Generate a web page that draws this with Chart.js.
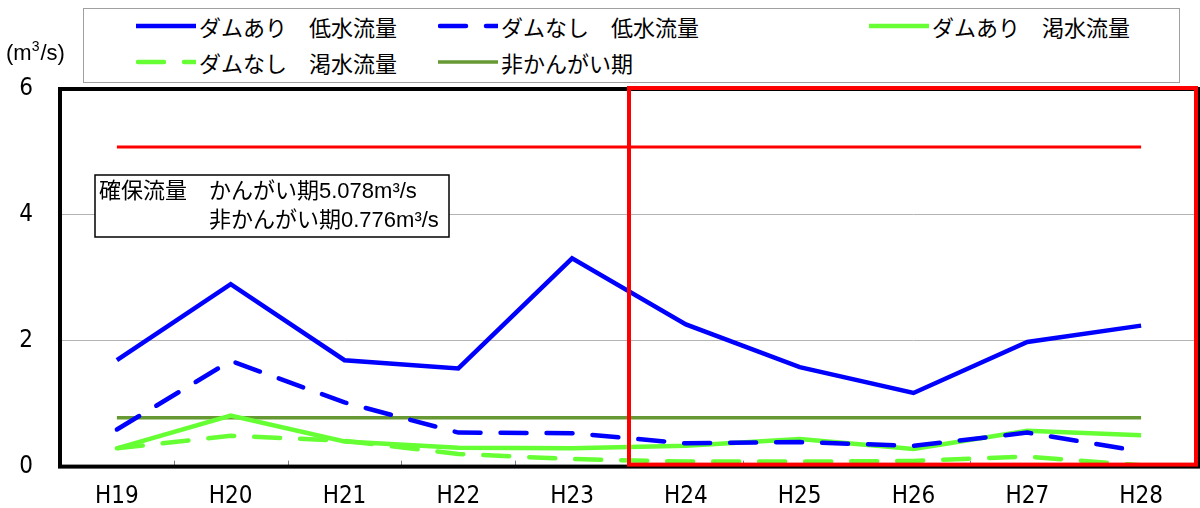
<!DOCTYPE html>
<html>
<head>
<meta charset="utf-8">
<script src="https://cdn.jsdelivr.net/npm/chart.js@4/dist/chart.umd.min.js"></script>
<style>
  html, body { margin: 0; padding: 0; background: #fff; }
  #wrap { position: relative; width: 1200px; height: 508px; }
  #legend {
    position: absolute; left: 83px; top: 8px; width: 1097px; height: 75px;
    border: 1px solid #a0a0a0; background: #fff; box-sizing: border-box;
  }
  .item {
    position: absolute; display: flex; align-items: center; height: 30px;
    font: 22px "Noto Sans CJK JP", sans-serif; color: #000; white-space: pre;
  }
  .item svg { margin-right: 3px; }
</style>
</head>
<body>
<div id="wrap">
  <canvas id="c" width="1200" height="508"></canvas>
  <div id="legend"></div>
</div>
<script>
/* === DATA === */
const years = ['H19', 'H20', 'H21', 'H22', 'H23', 'H24', 'H25', 'H26', 'H27', 'H28'];
const damLowFlow     = [1.69, 2.90, 1.69, 1.56, 3.31, 2.26, 1.58, 1.17, 1.98, 2.24];
const noDamLowFlow   = [0.59, 1.68, 1.02, 0.54, 0.53, 0.37, 0.39, 0.33, 0.54, 0.24];
const damDrought     = [0.29, 0.81, 0.40, 0.30, 0.29, 0.33, 0.44, 0.28, 0.57, 0.50];
const noDamDrought   = [0.29, 0.49, 0.41, 0.20, 0.12, 0.08, 0.08, 0.09, 0.16, 0.02];
const nonIrrigation  = [0.776, 0.776, 0.776, 0.776, 0.776, 0.776, 0.776, 0.776, 0.776, 0.776];
const irrigation     = [5.078, 5.078, 5.078, 5.078, 5.078, 5.078, 5.078, 5.078, 5.078, 5.078];
const yTicks = [0, 2, 4, 6];

const NARROW = '"Liberation Sans Narrow", "DejaVu Sans Condensed", "Arial Narrow", sans-serif';
const NOTE_FONT = '22px "Liberation Sans", "Noto Sans CJK JP", sans-serif';

function line(label, data, color, width, dash, inLegend = true) {
  return {
    label, data,
    borderColor: color, backgroundColor: color,
    borderWidth: width, borderDash: dash,
    borderCapStyle: dash.length ? 'round' : 'butt',
    pointRadius: 0, tension: 0, fill: false,
    inLegend
  };
}

/* === DECORATIONS: frame, ticks, red box, note, unit === */
const decor = {
  id: 'decor',
  beforeDatasetsDraw(chart) {
    const { ctx, chartArea: a, scales: { x } } = chart;
    ctx.save();
    ctx.strokeStyle = '#808080';
    ctx.lineWidth = 1;
    for (let i = 0; i < years.length - 1; i++) {
      const px = Math.round((x.getPixelForTick(i) + x.getPixelForTick(i + 1)) / 2) + 0.5;
      ctx.beginPath();
      ctx.moveTo(px, a.bottom);
      ctx.lineTo(px, a.bottom - 6);
      ctx.stroke();
    }
    ctx.restore();
  },
  afterDatasetsDraw(chart) {
    const { ctx, chartArea: a, scales: { x } } = chart;
    ctx.save();
    // plot frame
    ctx.strokeStyle = '#000';
    ctx.lineWidth = 4;
    ctx.strokeRect(a.left, a.top, a.right - a.left, a.bottom - a.top);

    // red highlight box from H24 onward
    const xl = (x.getPixelForTick(4) + x.getPixelForTick(5)) / 2;
    ctx.strokeStyle = '#ff0000';
    ctx.lineWidth = 4;
    ctx.strokeRect(xl, a.top - 1, a.right - 2 - xl, a.bottom - a.top - 1);

    // note box
    const bx = a.left + 35, by = a.top + 86, bw = 354, bh = 62;
    ctx.fillStyle = '#fff';
    ctx.fillRect(bx, by, bw, bh);
    ctx.strokeStyle = '#000';
    ctx.lineWidth = 1.5;
    ctx.strokeRect(bx, by, bw, bh);
    ctx.fillStyle = '#000';
    ctx.font = NOTE_FONT;
    ctx.textBaseline = 'middle';
    ctx.textAlign = 'left';
    ctx.fillText('確保流量　かんがい期5.078m³/s', bx + 4, by + 17);
    ctx.fillText('　　　　　非かんがい期0.776m³/s', bx + 4, by + 46);

    // unit (m3/s) with raised 3
    ctx.textBaseline = 'alphabetic';
    ctx.font = '22px "Liberation Sans", sans-serif';
    let ux = 6;
    ctx.fillText('(m', ux, 60);
    ux += ctx.measureText('(m').width;
    ctx.font = '14px "Liberation Sans", sans-serif';
    ctx.fillText('3', ux, 51);
    ux += ctx.measureText('3').width + 1;
    ctx.font = '22px "Liberation Sans", sans-serif';
    ctx.fillText('/s)', ux, 60);
    ctx.restore();
  }
};

/* === CHART === */
const chart = new Chart(document.getElementById('c'), {
  type: 'line',
  data: {
    labels: years,
    datasets: [
      line('ダムあり　低水流量', damLowFlow, '#0000ff', 4.5, []),
      line('ダムなし　低水流量', noDamLowFlow, '#0000ff', 4.5, [26, 20]),
      line('ダムあり　渇水流量', damDrought, '#66ff33', 4.5, []),
      line('ダムなし　渇水流量', noDamDrought, '#66ff33', 4.5, [26, 20]),
      line('非かんがい期', nonIrrigation, '#669933', 3.5, []),
      line('かんがい期', irrigation, '#ff0000', 3, [], false)
    ]
  },
  options: {
    responsive: false,
    animation: false,
    layout: { padding: { top: 89, right: 2, left: 0, bottom: 0 } },
    plugins: { legend: { display: false }, tooltip: { enabled: false } },
    scales: {
      x: {
        offset: true,
        grid: { display: false, drawTicks: false },
        border: { display: false },
        ticks: { color: '#000', font: { family: NARROW, size: 24 }, padding: 16 },
        afterFit(s) { s.height = 41; }
      },
      y: {
        min: yTicks[0],
        max: yTicks[yTicks.length - 1],
        ticks: { stepSize: yTicks[1] - yTicks[0], color: '#000', font: { family: NARROW, size: 24 }, padding: 27 },
        grid: { color: '#b4b4b4', lineWidth: 1, drawTicks: false },
        border: { display: false },
        afterFit(s) { s.width = 60; }
      }
    }
  },
  plugins: [decor]
});

/* === LEGEND (HTML) === */
const legendBox = document.getElementById('legend');
const colX = [52, 354, 785];
const rowY = [1.5, 38];
chart.data.datasets.filter(d => d.inLegend).forEach((d, i) => {
  const el = document.createElement('div');
  el.className = 'item';
  el.style.left = colX[i % 3] + 'px';
  el.style.top = rowY[Math.floor(i / 3)] + 'px';
  const dash = d.borderDash.length ? `stroke-dasharray="${d.borderDash.join(' ')}" stroke-linecap="round"` : '';
  const x1 = d.borderDash.length ? 2 : 0;
  el.innerHTML = `<svg width="60" height="10"><line x1="${x1}" y1="5" x2="60" y2="5" stroke="${d.borderColor}" stroke-width="${d.borderWidth}" ${dash}/></svg>`;
  const t = document.createElement('span');
  t.textContent = d.label;
  el.appendChild(t);
  legendBox.appendChild(el);
});
</script>
</body>
</html>
